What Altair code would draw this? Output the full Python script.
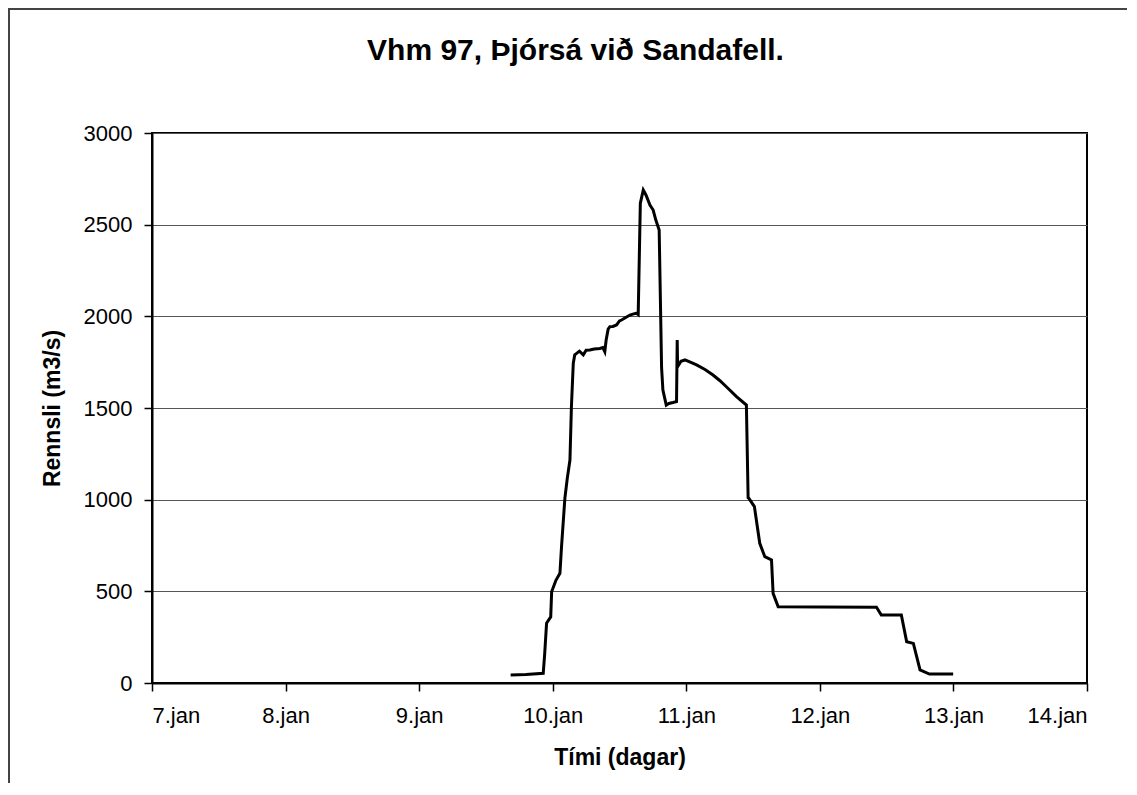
import altair as alt
import pandas as pd

days = [9.685, 9.80, 9.929, 9.94, 9.954, 9.975, 9.985, 9.992, 10.024, 10.054,
        10.066, 10.091, 10.109, 10.129, 10.14, 10.154, 10.165, 10.179, 10.20, 10.229,
        10.25, 10.278, 10.31, 10.353, 10.375, 10.39, 10.40, 10.415, 10.428, 10.45,
        10.478, 10.50, 10.515, 10.55, 10.578, 10.60, 10.628, 10.64, 10.656, 10.678,
        10.698, 10.728, 10.752, 10.772, 10.797, 10.815, 10.825, 10.85, 10.87, 10.90,
        10.927, 10.932, 10.935, 10.96, 10.99, 11.03, 11.077, 11.14, 11.20, 11.25,
        11.30, 11.376, 11.45, 11.463, 11.469, 11.51, 11.55, 11.588, 11.638, 11.65,
        11.688, 12.0, 12.424, 12.46, 12.61, 12.65, 12.70, 12.75, 12.82, 12.998]
flow = [44, 47, 53, 160, 326, 350, 360, 498, 560, 598,
        744, 1007, 1116, 1216, 1507, 1744, 1790, 1798, 1810, 1790,
        1815, 1816, 1822, 1825, 1830, 1807, 1871, 1930, 1944, 1945,
        1953, 1975, 1980, 1995, 2007, 2012, 2017, 2010, 2617, 2689,
        2662, 2607, 2580, 2525, 2471, 1720, 1598, 1516, 1525, 1530,
        1535, 1871, 1725, 1755, 1762, 1750, 1735, 1710, 1680, 1650,
        1616, 1562, 1516, 1010, 1007, 962, 762, 689, 671, 489,
        416, 414, 413, 371, 371, 225, 216, 71, 49, 49]

x_ticks = [7, 8, 9, 10, 11, 12, 13, 14]
y_ticks = [0, 500, 1000, 1500, 2000, 2500, 3000]

df = pd.DataFrame({"dagur": days, "rennsli": flow})
FONT = "Liberation Sans"

line = alt.Chart(df).mark_line(color="black", strokeWidth=3).encode(
    x=alt.X("dagur:Q",
            scale=alt.Scale(domain=[7, 14], nice=False),
            axis=alt.Axis(values=x_ticks, labelExpr="datum.value + '.jan'",
                          title="Tími (dagar)", grid=False,
                          tickSize=8, labelPadding=14, titlePadding=20)),
    y=alt.Y("rennsli:Q",
            scale=alt.Scale(domain=[0, 3000], nice=False),
            axis=alt.Axis(values=y_ticks, format="d", title="Rennsli (m3/s)", grid=True,
                          tickSize=8, labelPadding=12, titlePadding=19)),
)

frame = alt.Chart(df).mark_rect(fill=None, stroke="#444", strokeWidth=1.2).encode(
    x=alt.value(-143), x2=alt.value(1100), y=alt.value(-124), y2=alt.value(800)
)

chart = alt.layer(frame, line).properties(
    width=935, height=550,
    background="white",
    autosize=alt.AutoSizeParams(type="none"),
    padding={"left": 144, "top": 125, "right": 40, "bottom": 100},
    title=alt.TitleParams("Vhm 97, Þjórsá við Sandafell.", font=FONT, fontSize=30,
                          fontWeight="bold", color="black", anchor="middle",
                          dx=-44, offset=-58),
).configure_axis(
    labelFont=FONT, labelFontSize=22, labelColor="black",
    titleFont=FONT, titleFontSize=23, titleFontWeight="bold", titleColor="black",
    domainColor="black", domainWidth=2, tickColor="black", tickWidth=1.5,
    gridColor="#555", gridWidth=1,
).configure_view(stroke="black", strokeWidth=2)

chart.save("out.html", embed_options={"renderer": "svg", "actions": False})
